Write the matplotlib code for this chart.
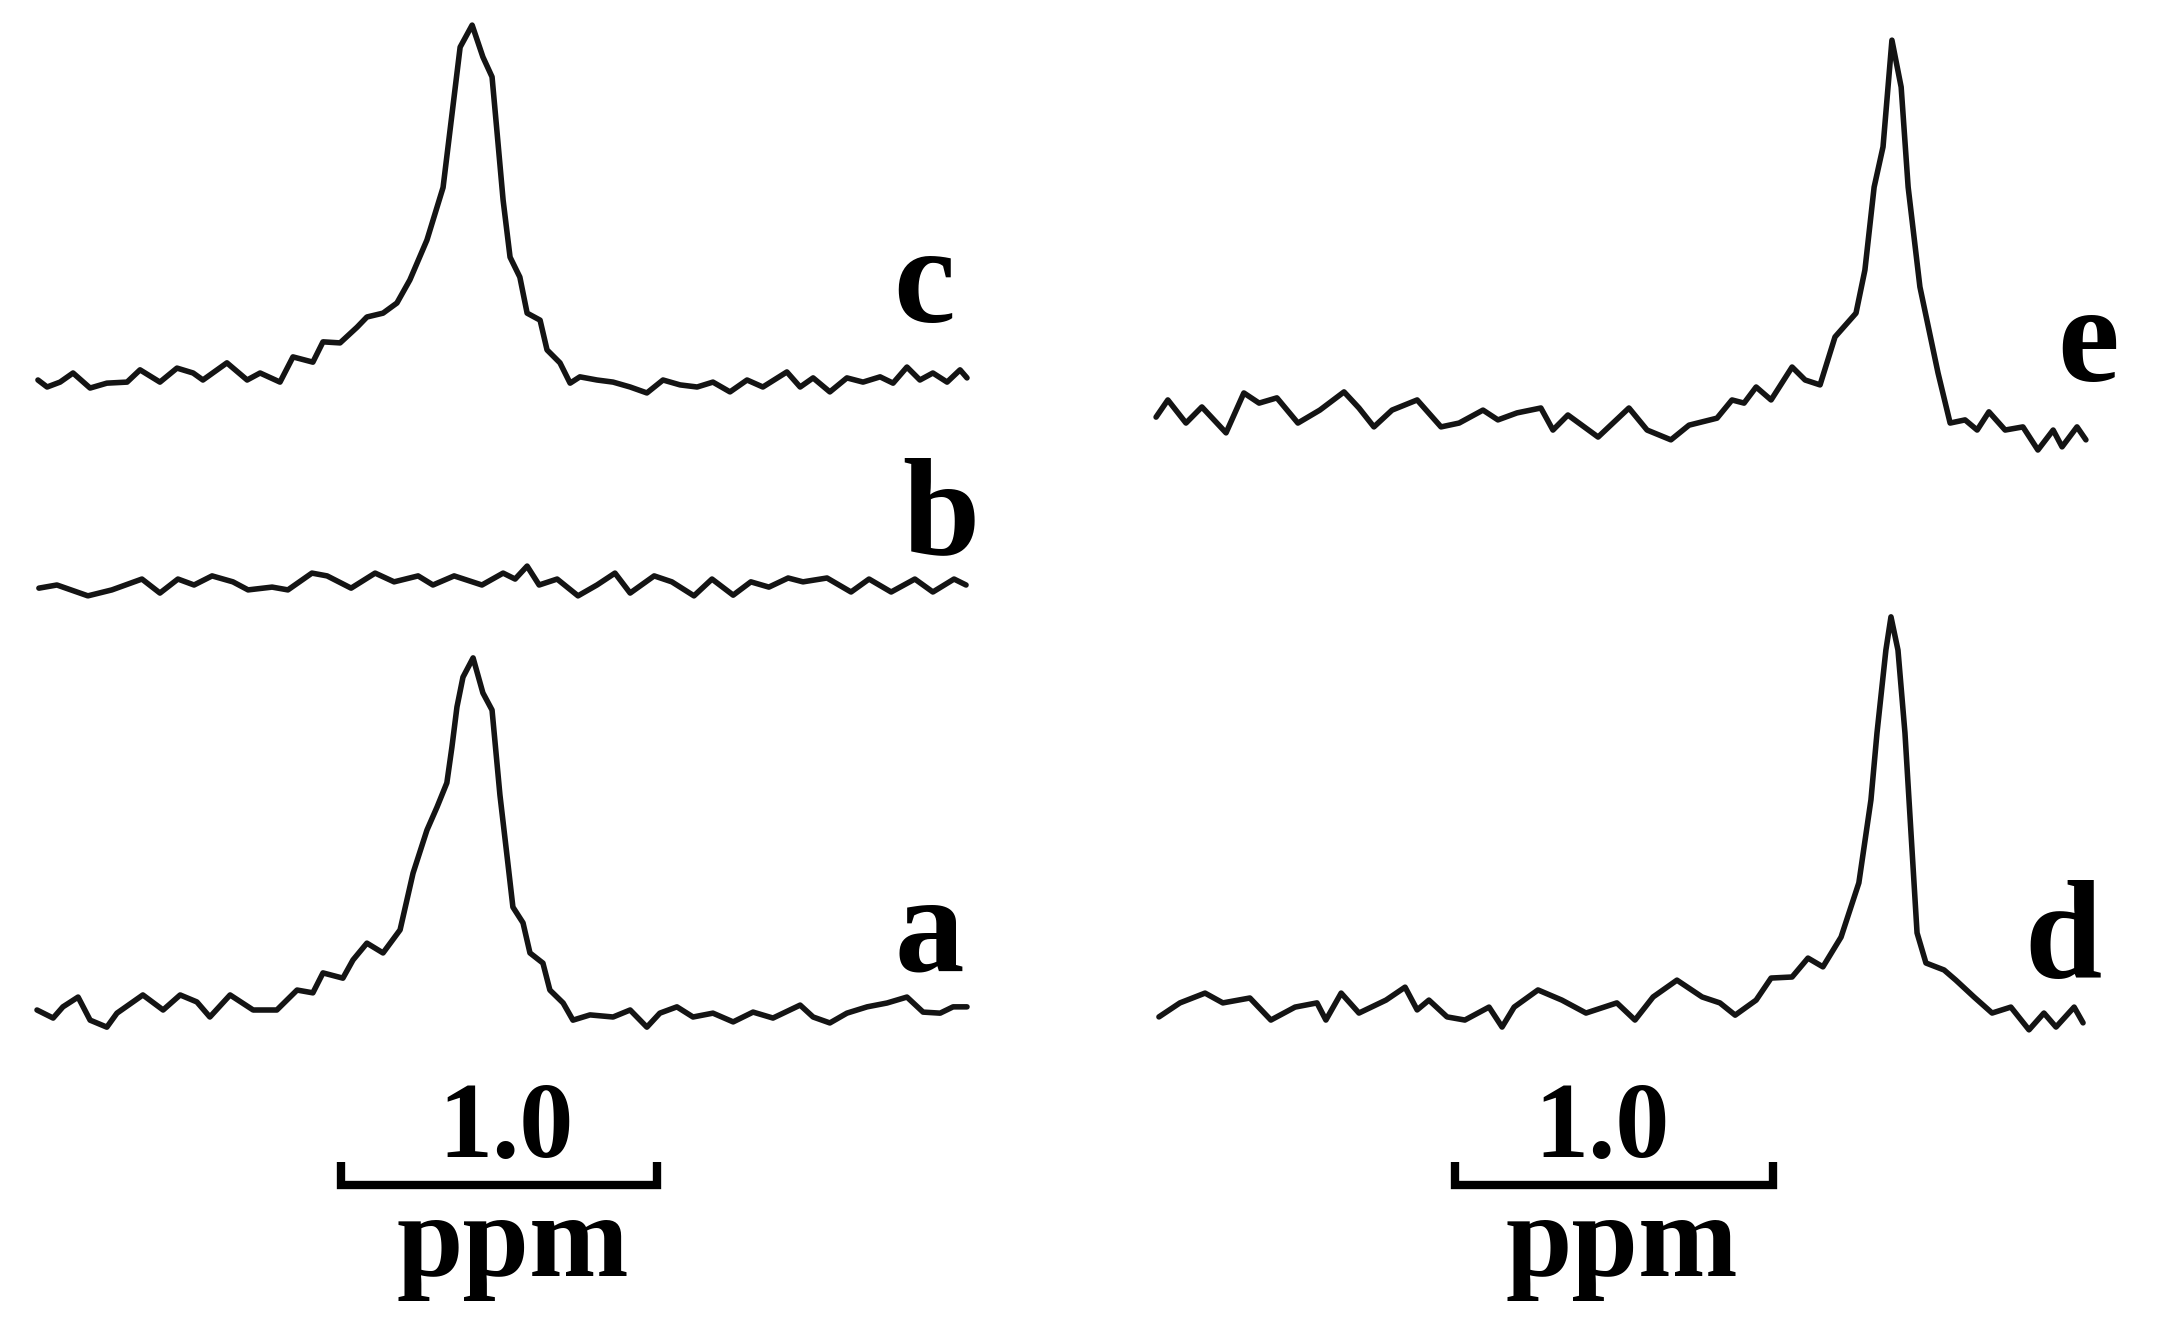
import matplotlib
matplotlib.use("Agg")
import matplotlib.pyplot as plt

# ---------------- data ----------------
# chemical shift (ppm, relative) and intensity (arb. units) of each trace
c_ppm = [2.959, 2.930, 2.889, 2.848, 2.794, 2.741, 2.677, 2.636, 2.573, 2.519, 2.468, 2.437,
         2.361, 2.297, 2.256, 2.193, 2.152, 2.089, 2.057, 2.003, 1.949, 1.918, 1.867, 1.823,
         1.782, 1.728, 1.677, 1.646, 1.623, 1.585, 1.551, 1.522, 1.506, 1.487, 1.465, 1.434,
         1.411, 1.370, 1.348, 1.307, 1.275, 1.244, 1.190, 1.139, 1.085, 1.032, 0.981, 0.927,
         0.873, 0.823, 0.769, 0.715, 0.665, 0.589, 0.547, 0.506, 0.453, 0.399, 0.348, 0.294,
         0.253, 0.209, 0.168, 0.127, 0.082, 0.041, 0.019]
c_int = [0.0, -2.0, -0.6, 2.0, -2.3, -0.9, -0.6, 2.9, -0.6, 3.4, 2.0, 0.0,
         4.9, 0.0, 2.0, -0.6, 6.6, 5.1, 10.9, 10.6, 15.1, 18.0, 19.1, 22.0,
         28.6, 40.0, 55.0, 78.0, 95.1, 101.4, 92.3, 86.6, 70.6, 51.4, 35.1, 29.4,
         19.1, 17.1, 8.6, 4.9, -0.9, 0.9, 0.0, -0.6, -2.0, -3.7, 0.0, -1.4,
         -2.0, -0.6, -3.4, 0.0, -2.0, 2.3, -2.0, 0.6, -3.4, 0.6, -0.6, 0.9,
         -0.9, 3.7, 0.0, 2.0, -0.6, 2.9, 0.6]

b_ppm = [2.956, 2.899, 2.801, 2.725, 2.630, 2.573, 2.516, 2.465, 2.408, 2.342, 2.294, 2.218,
         2.168, 2.092, 2.044, 1.968, 1.892, 1.832, 1.756, 1.709, 1.642, 1.554, 1.487, 1.449,
         1.411, 1.373, 1.316, 1.250, 1.190, 1.133, 1.085, 1.009, 0.953, 0.883, 0.826, 0.759,
         0.703, 0.646, 0.585, 0.538, 0.462, 0.386, 0.329, 0.259, 0.184, 0.127, 0.060, 0.022]
b_int = [-0.9, 0.0, -3.1, -1.4, 1.7, -2.3, 1.7, 0.0, 2.6, 0.9, -1.4, -0.6,
         -1.4, 3.4, 2.6, -0.9, 3.4, 0.9, 2.6, 0.0, 2.6, 0.0, 3.4, 1.7,
         5.4, 0.0, 1.7, -3.1, 0.0, 3.4, -2.3, 2.6, 0.9, -3.1, 1.7, -2.9,
         0.9, -0.6, 2.0, 0.9, 2.0, -2.0, 1.7, -2.0, 1.7, -2.0, 1.7, 0.0]

a_ppm = [2.962, 2.911, 2.880, 2.832, 2.794, 2.741, 2.709, 2.627, 2.563, 2.509, 2.456, 2.415,
         2.351, 2.278, 2.203, 2.139, 2.089, 2.057, 1.994, 1.962, 1.918, 1.867, 1.813, 1.772,
         1.728, 1.696, 1.665, 1.649, 1.633, 1.614, 1.582, 1.551, 1.522, 1.497, 1.472, 1.456,
         1.424, 1.402, 1.361, 1.339, 1.297, 1.266, 1.212, 1.139, 1.085, 1.032, 0.991, 0.937,
         0.886, 0.823, 0.759, 0.696, 0.633, 0.547, 0.506, 0.453, 0.399, 0.335, 0.272, 0.209,
         0.158, 0.104, 0.063, 0.019]
a_int = [0.0, -2.3, 0.9, 3.7, -2.9, -4.9, -0.9, 4.3, 0.0, 4.3, 2.3, -2.0,
         4.3, 0.0, 0.0, 5.7, 4.9, 10.6, 9.1, 14.3, 19.1, 16.3, 22.9, 39.1,
         51.4, 58.0, 64.9, 75.1, 86.6, 95.1, 100.6, 90.6, 85.7, 61.4, 42.0, 29.4,
         24.9, 16.3, 13.4, 5.7, 2.0, -2.9, -1.4, -2.0, 0.0, -4.9, -0.9, 0.9,
         -2.0, -0.9, -3.4, -0.6, -2.3, 1.4, -2.0, -3.7, -0.9, 0.9, 2.0, 3.7,
         -0.6, -0.9, 0.9, 0.9]

e_ppm = [2.940, 2.903, 2.846, 2.796, 2.720, 2.664, 2.616, 2.560, 2.494, 2.425, 2.349, 2.302,
         2.255, 2.198, 2.119, 2.044, 1.987, 1.912, 1.865, 1.805, 1.730, 1.692, 1.645, 1.550,
         1.453, 1.396, 1.321, 1.264, 1.176, 1.129, 1.091, 1.053, 1.006, 0.940, 0.899, 0.852,
         0.805, 0.739, 0.711, 0.682, 0.654, 0.626, 0.597, 0.575, 0.538, 0.481, 0.443, 0.396,
         0.358, 0.321, 0.270, 0.214, 0.167, 0.119, 0.091, 0.044, 0.016]
e_int = [-0.6, 4.3, -2.3, 2.3, -5.1, 6.3, 3.4, 4.9, -2.3, 1.4, 6.6, 2.0,
         -3.4, 1.4, 4.3, -3.4, -2.3, 1.4, -1.4, 0.6, 2.0, -4.3, 0.0, -6.3,
         2.0, -4.3, -7.1, -2.9, -0.9, 4.3, 3.4, 8.0, 4.3, 13.7, 10.0, 8.6,
         22.3, 29.1, 41.4, 65.1, 76.6, 107.1, 93.7, 65.1, 36.6, 12.0, -2.3, -1.4,
         -4.3, 0.9, -4.3, -3.4, -10.0, -4.3, -9.1, -3.4, -7.1]

d_ppm = [2.931, 2.865, 2.786, 2.730, 2.645, 2.579, 2.503, 2.434, 2.406, 2.358, 2.302, 2.217,
         2.157, 2.119, 2.082, 2.025, 1.969, 1.893, 1.852, 1.814, 1.739, 1.664, 1.588, 1.491,
         1.434, 1.377, 1.302, 1.223, 1.167, 1.119, 1.053, 1.006, 0.940, 0.890, 0.843, 0.786,
         0.730, 0.692, 0.673, 0.645, 0.629, 0.607, 0.585, 0.566, 0.547, 0.519, 0.462, 0.425,
         0.368, 0.311, 0.252, 0.195, 0.148, 0.110, 0.053, 0.025]
d_int = [-3.4, 0.6, 3.4, 0.6, 2.0, -4.3, -0.6, 0.6, -4.3, 3.4, -2.3, 1.4,
         5.1, -1.4, 1.4, -3.4, -4.3, -0.6, -6.3, -0.6, 4.3, 1.4, -2.3, 0.6,
         -4.3, 2.3, 7.1, 2.3, 0.6, -2.9, 1.4, 7.7, 8.0, 13.4, 10.9, 19.4,
         34.9, 58.6, 77.7, 101.4, 110.9, 101.4, 77.7, 49.1, 20.6, 12.0, 10.0, 7.1,
         2.3, -2.3, -0.6, -7.1, -2.3, -6.3, -0.6, -5.1]

trace_labels = ["a", "b", "c", "d", "e"]
scale_bar_ppm = [2.0, 1.0]
scale_bar_text = "1.0"
unit_text = "ppm"

# ---------------- layout ----------------
W, H, DPI = 2168, 1336, 100
UNIT_PX = 3.5                        # pixels per intensity unit
panels = {
    "left":  dict(x_px=(0, 1084), ref_ppm=2.0, ref_px=341, px_per_ppm=316.0),
    "right": dict(x_px=(1084, 2168), ref_ppm=2.0, ref_px=1455, px_per_ppm=318.0),
}
baseline_px = {"c": 380, "b": 585, "a": 1010, "e": 415, "d": 1005}
label_pos = {  # (centre px x, baseline px y)
    "c": (924, 322), "b": (941, 554), "a": (929, 970),
    "e": (2088, 381), "d": (2063, 977),
}
series = {
    "a": ("left", a_ppm, a_int), "b": ("left", b_ppm, b_int), "c": ("left", c_ppm, c_int),
    "d": ("right", d_ppm, d_int), "e": ("right", e_ppm, e_int),
}
bar_y_px, bar_tick_px = 1185, 1162
num_pos = {"left": (506, 1157), "right": (1602, 1157)}
unit_pos = {"left": (513, 1276), "right": (1622, 1276)}

LINE_COLOR = "#141414"
FONT = dict(family="Liberation Serif", weight="bold", color="black")

plt.rcParams["font.family"] = ["Liberation Serif", "DejaVu Serif"]
fig = plt.figure(figsize=(W / DPI, H / DPI), dpi=DPI)
fig.patch.set_facecolor("white")

def ydata(py):
    return (H - py) / UNIT_PX

axes = {}
for name, p in panels.items():
    x0, x1 = p["x_px"]
    ax = fig.add_axes([x0 / W, 0, (x1 - x0) / W, 1])
    left_ppm = p["ref_ppm"] + (p["ref_px"] - x0) / p["px_per_ppm"]
    right_ppm = p["ref_ppm"] - (x1 - p["ref_px"]) / p["px_per_ppm"]
    ax.set_xlim(left_ppm, right_ppm)
    ax.set_ylim(0, H / UNIT_PX)
    ax.axis("off")
    axes[name] = ax

def xdata(panel, px):
    p = panels[panel]
    return p["ref_ppm"] - (px - p["ref_px"]) / p["px_per_ppm"]

for lab in trace_labels:
    panel, xs, ys = series[lab]
    ax = axes[panel]
    off = ydata(baseline_px[lab])
    ax.plot(xs, [v + off for v in ys], color=LINE_COLOR, lw=4.0,
            solid_joinstyle="round", solid_capstyle="round")
    lx, ly = label_pos[lab]
    ax.text(xdata(panel, lx), ydata(ly), lab, ha="center", va="baseline",
            fontsize=100, **FONT)

for panel, ax in axes.items():
    yb, yt = ydata(bar_y_px), ydata(bar_tick_px)
    s0, s1 = scale_bar_ppm
    ax.plot([s0, s0, s1, s1], [yt, yb, yb, yt], color="black", lw=6,
            solid_joinstyle="miter", solid_capstyle="butt")
    nx, ny = num_pos[panel]
    ax.text(xdata(panel, nx), ydata(ny), scale_bar_text, ha="center", va="baseline",
            fontsize=78, **FONT)
    ux, uy = unit_pos[panel]
    ax.text(xdata(panel, ux), ydata(uy), unit_text, ha="center", va="baseline",
            fontsize=86, **FONT)

fig.savefig("out.png", dpi=DPI, facecolor="white")
